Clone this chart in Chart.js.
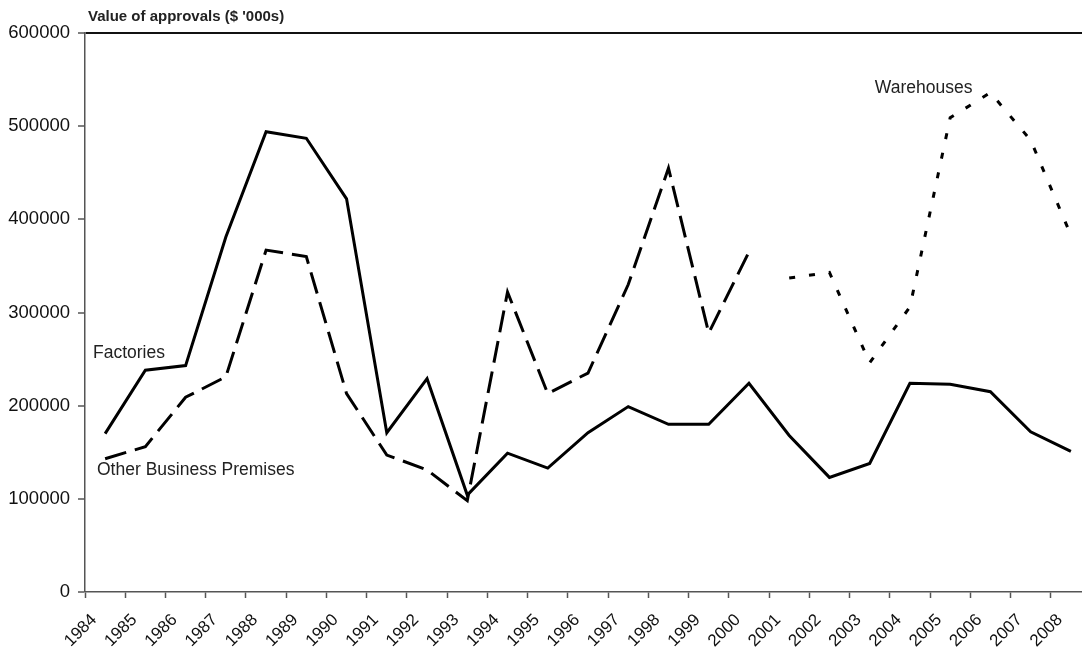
<!DOCTYPE html>
<html lang="en">
<head>
    <meta charset="UTF-8">
    <title>Value of approvals</title>
    <script src="https://cdn.jsdelivr.net/npm/chart.js"></script>
    <style>
        * {
            margin: 0;
            padding: 0;
            box-sizing: border-box;
        }

        body {
            background: #ffffff;
            overflow: hidden;
            width: 1082px;
            height: 647px;
        }

        .chart-container {
            position: absolute;
            left: 0;
            top: 0;
            width: 1100px;
            height: 647px;
        }
    </style>
</head>
<body>
    <div class="chart-container">
        <canvas id="approvalsChart"></canvas>
    </div>

    <script>
        const years = ['1984', '1985', '1986', '1987', '1988', '1989', '1990', '1991', '1992',
            '1993', '1994', '1995', '1996', '1997', '1998', '1999', '2000', '2001', '2002',
            '2003', '2004', '2005', '2006', '2007', '2008'];

        const factories = [170000, 238000, 243000, 381000, 494000, 487000, 422000, 171000, 229000,
            104000, 149000, 133000, 171000, 199000, 180000, 180000, 224000, 168000, 123000,
            138000, 224000, 223000, 215000, 172000, 151000];

        const otherBusiness = [143000, 156000, 209000, 231000, 367000, 360000, 213000, 147000, 131000,
            98000, 322000, 213000, 235000, 330000, 455000, 278000, 365000, null, null,
            null, null, null, null, null, null];

        const warehouses = [null, null, null, null, null, null, null, null, null,
            null, null, null, null, null, null, null, null, 337000, 343000,
            246000, 306000, 509000, 536000, 485000, 383000];

        const yTicks = [0, 100000, 200000, 300000, 400000, 500000, 600000];

        const textFont = '"Liberation Sans", Arial, sans-serif';

        // title and series labels written straight onto the canvas
        const labelsPlugin = {
            id: 'seriesLabels',
            afterDraw(chart) {
                const { ctx, chartArea, scales } = chart;
                const y = scales.y;
                const x = scales.x;
                ctx.save();
                ctx.fillStyle = '#222';
                ctx.textBaseline = 'middle';

                ctx.font = 'bold 15px ' + textFont;
                ctx.textAlign = 'left';
                ctx.fillText("Value of approvals ($ '000s)", chartArea.left + 3, 17);

                ctx.font = '17.5px ' + textFont;
                ctx.fillText('Factories', chartArea.left + 8, y.getPixelForValue(256000));
                ctx.fillText('Other Business Premises', chartArea.left + 12, y.getPixelForValue(131000));

                ctx.textAlign = 'right';
                ctx.fillText('Warehouses', x.getPixelForValue(22) - 18, y.getPixelForValue(541000));
                ctx.restore();
            }
        };

        const ctx = document.getElementById('approvalsChart').getContext('2d');

        new Chart(ctx, {
            type: 'line',
            data: {
                labels: years,
                datasets: [
                    {
                        label: 'Factories',
                        data: factories,
                        borderColor: '#000',
                        borderWidth: 3,
                        pointRadius: 0,
                        tension: 0
                    },
                    {
                        label: 'Other Business Premises',
                        data: otherBusiness,
                        borderColor: '#000',
                        borderWidth: 3,
                        borderDash: [22, 9],
                        pointRadius: 0,
                        tension: 0,
                        spanGaps: false
                    },
                    {
                        label: 'Warehouses',
                        data: warehouses,
                        borderColor: '#000',
                        borderWidth: 3,
                        borderDash: [6, 14],
                        pointRadius: 0,
                        tension: 0,
                        spanGaps: false
                    }
                ]
            },
            options: {
                responsive: true,
                maintainAspectRatio: false,
                animation: false,
                layout: {
                    padding: { top: 33, right: 9, left: 0, bottom: 0 }
                },
                plugins: {
                    legend: { display: false },
                    tooltip: { enabled: false }
                },
                scales: {
                    x: {
                        offset: true,
                        afterFit: s => { s.height = 55; },
                        grid: {
                            offset: true,
                            drawOnChartArea: false,
                            tickLength: 6,
                            tickColor: '#555',
                            tickWidth: 1.5
                        },
                        border: { color: '#555', width: 1.5 },
                        ticks: {
                            minRotation: 45,
                            maxRotation: 45,
                            autoSkip: false,
                            padding: 12,
                            labelOffset: -11,
                            color: '#111',
                            font: { family: textFont, size: 17 }
                        }
                    },
                    y: {
                        min: 0,
                        max: 600000,
                        afterFit: s => { s.width = 85; },
                        afterBuildTicks: s => { s.ticks = yTicks.map(v => ({ value: v })); },
                        grid: {
                            drawOnChartArea: true,
                            color: c => (c.tick && c.tick.value === 600000) ? '#111' : 'rgba(0,0,0,0)',
                            lineWidth: c => (c.tick && c.tick.value === 600000) ? 2 : 0,
                            tickLength: 7,
                            tickColor: '#555',
                            tickWidth: 1.5
                        },
                        border: { color: '#555', width: 1.5 },
                        ticks: {
                            padding: 8,
                            color: '#111',
                            font: { family: textFont, size: 18.5 },
                            callback: v => String(v)
                        }
                    }
                }
            },
            plugins: [labelsPlugin]
        });
    </script>
</body>
</html>
